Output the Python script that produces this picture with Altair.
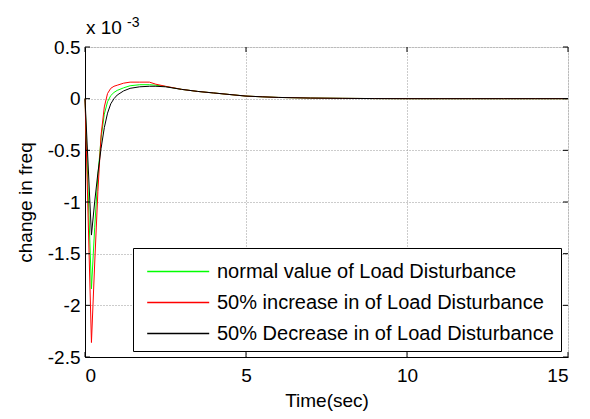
import altair as alt
import pandas as pd

# time samples (s)
T = [0, 0.2, 0.3, 0.4, 0.5, 0.6, 0.7, 0.8, 0.9, 1.0, 1.2, 1.4, 1.7, 2.0, 2.2, 2.5,
     3.0, 3.5, 4.0, 4.5, 5.0, 5.5, 6.0, 7.0, 8.0, 9.0, 10.0, 11.0, 12.0, 13.0, 14.0, 15.0]
# change in frequency (x 1e-3)
normal = [0, -1.84, -1.25, -0.75, -0.38, -0.15, -0.03, 0.03, 0.06, 0.08, 0.105, 0.125, 0.135, 0.135, 0.13, 0.118,
          0.09, 0.07, 0.055, 0.04, 0.025, 0.018, 0.012, 0.006, 0.003, 0.001, 0, 0, 0, 0, 0, 0]
increase = [0, -2.36, -1.6, -0.9, -0.35, -0.08, 0.05, 0.1, 0.12, 0.13, 0.15, 0.16, 0.16, 0.16, 0.14, 0.12,
            0.09, 0.07, 0.055, 0.04, 0.025, 0.018, 0.012, 0.006, 0.003, 0.001, 0, 0, 0, 0, 0, 0]
decrease = [0, -1.32, -1.0, -0.72, -0.48, -0.28, -0.14, -0.05, 0.0, 0.035, 0.075, 0.1, 0.115, 0.12, 0.12, 0.115,
            0.09, 0.07, 0.055, 0.04, 0.025, 0.018, 0.012, 0.006, 0.003, 0.001, 0, 0, 0, 0, 0, 0]

names = ["normal value of Load Disturbance",
         "50% increase in of Load Disturbance",
         "50% Decrease in of Load Disturbance"]
colors = ["#00ff00", "#ff0000", "#000000"]
series = [normal, increase, decrease]

x_ticks = [0, 5, 10, 15]
y_ticks = [-2.5, -2, -1.5, -1, -0.5, 0, 0.5]

W, H = 483, 310
FONT = "Arial, Liberation Sans"
FS = 19

rows = []
for n, vals in zip(names, series):
    for t, v in zip(T, vals):
        rows.append({"t": t, "v": v, "s": n})
df = pd.DataFrame(rows)

xscale = alt.Scale(domain=[0, 15], nice=False, zero=False)
yscale = alt.Scale(domain=[-2.5, 0.5], nice=False, zero=False)
cscale = alt.Scale(domain=names, range=colors)

xaxis = alt.Axis(values=x_ticks, title="Time(sec)", grid=True, gridDash=[1, 2], gridColor="#999999",
                 gridOpacity=1, tickSize=0, labelPadding=9, labelFontSize=FS, titleFontSize=FS,
                 titleFontWeight="normal", titlePadding=6, labelFont=FONT, titleFont=FONT,
                 domainColor="black", labelColor="black", titleColor="black",
                 labelExpr="datum.value + ''")
yaxis = alt.Axis(values=y_ticks, title="change in freq", grid=True, gridDash=[1, 2], gridColor="#999999",
                 gridOpacity=1, tickSize=0, labelPadding=5, labelFontSize=FS, titleFontSize=FS,
                 titleFontWeight="normal", titlePadding=12, labelFont=FONT, titleFont=FONT,
                 domainColor="black", labelColor="black", titleColor="black",
                 labelExpr="datum.value + ''")

legend = alt.Legend(
    title=None, orient="none", legendX=48, legendY=201,
    strokeColor="black", fillColor="white", padding=7,
    symbolType="M-0.6,0H3.4", symbolSize=961, symbolStrokeWidth=1.3,
    labelFontSize=20, labelFont=FONT, labelLimit=500, labelOffset=44,
    rowPadding=4, labelColor="black")

layers = []
for n in names:
    layers.append(
        alt.Chart(df).transform_filter(alt.datum.s == n).mark_line(strokeWidth=1).encode(
            x=alt.X("t:Q", scale=xscale, axis=xaxis),
            y=alt.Y("v:Q", scale=yscale, axis=yaxis),
            color=alt.Color("s:N", scale=cscale, legend=legend),
        )
    )

xt = pd.DataFrame({"t": x_ticks})
yt = pd.DataFrame({"v": y_ticks})
tick_top = alt.Chart(xt).mark_rule(color="black").encode(
    x=alt.X("t:Q", scale=xscale, axis=xaxis), y=alt.value(0), y2=alt.value(5))
tick_bot = alt.Chart(xt).mark_rule(color="black").encode(
    x=alt.X("t:Q", scale=xscale, axis=xaxis), y=alt.value(H - 5), y2=alt.value(H))
tick_left = alt.Chart(yt).mark_rule(color="black").encode(
    y=alt.Y("v:Q", scale=yscale, axis=yaxis), x=alt.value(0), x2=alt.value(5))
tick_right = alt.Chart(yt).mark_rule(color="black").encode(
    y=alt.Y("v:Q", scale=yscale, axis=yaxis), x=alt.value(W - 5), x2=alt.value(W))

exp_base = alt.Chart(pd.DataFrame({"a": ["x 10"]})).mark_text(
    align="left", baseline="alphabetic", fontSize=FS, font=FONT, color="black").encode(
    x=alt.value(1), y=alt.value(-13), text="a:N")
exp_sup = alt.Chart(pd.DataFrame({"a": ["-3"]})).mark_text(
    align="left", baseline="alphabetic", fontSize=14, font=FONT, color="black").encode(
    x=alt.value(42), y=alt.value(-20), text="a:N")

chart = alt.layer(*layers, tick_top, tick_bot, tick_left, tick_right, exp_base, exp_sup).properties(
    width=W, height=H,
    autosize=alt.AutoSizeParams(type="none"),
    padding={"left": 85, "top": 47, "right": 22, "bottom": 62},
).configure_view(stroke="black", strokeWidth=1).configure(background="white")

chart.save("out.html", embed_options={"renderer": "svg", "actions": False})
